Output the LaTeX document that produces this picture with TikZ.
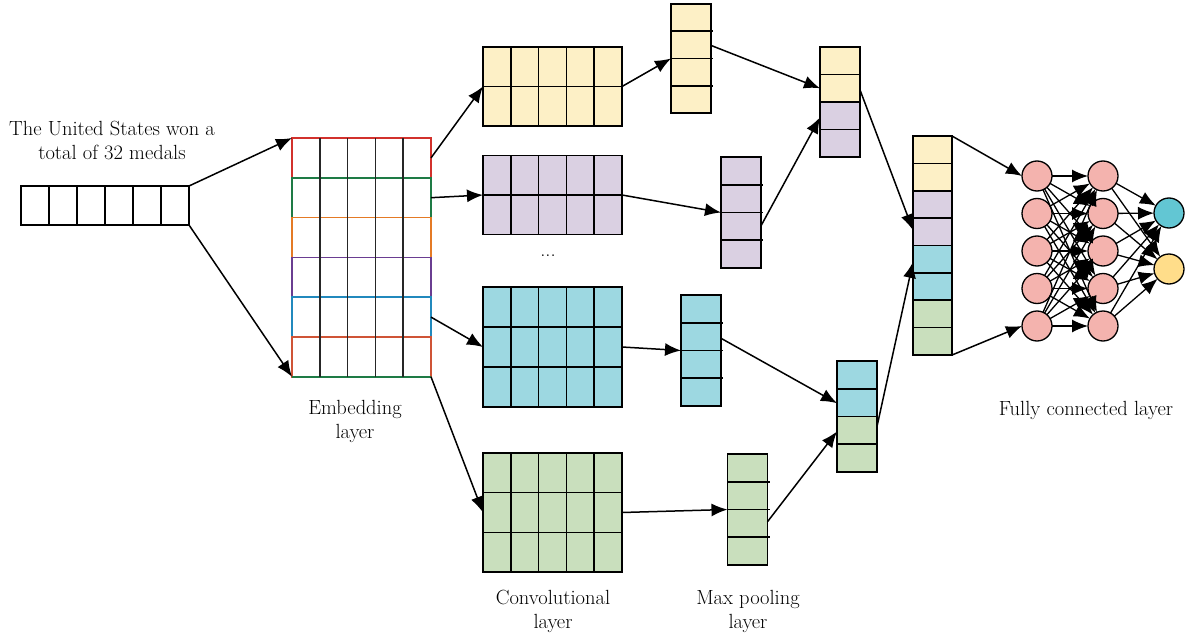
\documentclass[tikz,border=0pt]{standalone}
\usetikzlibrary{calc,arrows.meta}
\definecolor{cyel}{HTML}{FDF0C6}
\definecolor{cpur}{HTML}{DAD0E2}
\definecolor{ccya}{HTML}{9DD8E1}
\definecolor{cgre}{HTML}{C9DFBD}
\definecolor{cpink}{HTML}{F4B3AE}
\definecolor{cout1}{HTML}{62C6D3}
\definecolor{cout2}{HTML}{FFDD8A}
\definecolor{rowa}{HTML}{D2312C}
\definecolor{rowb}{HTML}{1E7B45}
\definecolor{rowc}{HTML}{E47A25}
\definecolor{rowd}{HTML}{6A3D91}
\definecolor{rowe}{HTML}{2189BD}
\definecolor{rowf}{HTML}{CF5436}

\begin{document}
\begin{tikzpicture}[x=1pt,y=-1pt,outer sep=0pt,font=\fontsize{20.5}{24}\selectfont]
\tikzstyle{box}=[draw, line width=1.6pt, inner sep=0pt, minimum width=40pt]
\tikzstyle{grid}=[line width=1.6pt]
\tikzstyle{arr}=[line width=1.5pt, -{Latex[length=16pt,width=13pt]}]
\tikzstyle{neuron}=[circle, draw, line width=1.3pt, fill=cpink, minimum size=30pt, inner sep=0pt]
\useasboundingbox (0,0) rectangle (1187,642);

% input sentence
\node (title) [align=center] at (112,140) {The United States won a\\total of 32 medals};
\node (in) [box, minimum width=168pt, minimum height=39pt] at (105,205.5) {};
\foreach \i in {1,...,5}
    \draw[grid] ($(in.north west)!\i/6!(in.north east)$) -- ($(in.south west)!\i/6!(in.south east)$);

% embedding rows
\foreach \r/\c in {1/rowa,2/rowb,3/rowc,4/rowd,5/rowe,6/rowf}
    \node (emb\r) [box, draw=\c, minimum width=139pt, minimum height=39.8pt] at (361.5,{118.1+39.8*\r}) {};
\draw[grid, rowb] (emb6.south west) -- (emb6.south east);
\foreach \i in {1,...,4}
    \draw[grid, black!85] ($(emb1.north west)!\i/5!(emb1.north east)$) -- ($(emb6.south west)!\i/5!(emb6.south east)$);
\node (emblabel) [align=center] at (355,421) {Embedding\\layer};

% convolution maps
\node (conv1) [box, fill=cyel, minimum width=139pt, minimum height=79pt] at (552.5,86.5) {};
\node (conv2) [box, fill=cpur, minimum width=139pt, minimum height=79pt] at (552.5,195) {};
\node (conv3) [box, fill=ccya, minimum width=139pt, minimum height=120pt] at (552.5,347) {};
\node (conv4) [box, fill=cgre, minimum width=139pt, minimum height=119pt] at (552.5,512.5) {};
\foreach \n/\r in {conv1/2,conv2/2,conv3/3,conv4/3} {
    \foreach \i in {1,...,4}
        \draw[grid] ($(\n.north west)!\i/5!(\n.north east)$) -- ($(\n.south west)!\i/5!(\n.south east)$);
    \foreach \j in {1,...,\r}
        \draw[grid] ($(\n.north west)!\j/\r!(\n.south west)$) -- ($(\n.north east)!\j/\r!(\n.south east)$);
}
\node (dots) at (548,256) {...};
\node (convlabel) [align=center] at (553,611) {Convolutional\\layer};

% max pooling
\node (pool1) [box, fill=cyel, minimum height=109pt] at (691,58.5) {};
\node (pool2) [box, fill=cpur, minimum height=111pt] at (741,212.5) {};
\node (pool3) [box, fill=ccya, minimum height=111pt] at (701,350.5) {};
\node (pool4) [box, fill=cgre, minimum height=111pt] at (747.5,509.5) {};
\foreach \n in {pool1,pool2,pool3,pool4}
    \foreach \j in {1,2,3}
        \draw[grid] ($(\n.north west)!\j/4!(\n.south west)$) -- ($(\n.north east)!\j/4!(\n.south east)+(2,0)$);
\node (poollabel) [align=center] at (748,611) {Max pooling\\layer};

% concatenation
\node (cat1a) [box, fill=cyel, minimum height=55pt] at (840,74.5) {};
\node (cat1b) [box, fill=cpur, minimum height=55pt, anchor=north] at (cat1a.south) {};
\node (cat2a) [box, fill=ccya, minimum height=55.5pt] at (857,388.75) {};
\node (cat2b) [box, fill=cgre, minimum height=55.5pt, anchor=north] at (cat2a.south) {};
\node (fin1) [box, fill=cyel, minimum width=39pt, minimum height=54.75pt] at (932.5,163.4) {};
\node (fin2) [box, fill=cpur, minimum width=39pt, minimum height=54.75pt, anchor=north] at (fin1.south) {};
\node (fin3) [box, fill=ccya, minimum width=39pt, minimum height=54.75pt, anchor=north] at (fin2.south) {};
\node (fin4) [box, fill=cgre, minimum width=39pt, minimum height=54.75pt, anchor=north] at (fin3.south) {};
\foreach \n in {cat1a,cat1b,cat2a,cat2b,fin1,fin2,fin3,fin4}
    \draw[grid] (\n.west) -- (\n.east);

% fully connected
\foreach \i/\y in {1/176,2/213.5,3/251,4/288.5,5/326} {
    \node (a\i) [neuron] at (1037,\y) {};
    \node (b\i) [neuron] at (1103,\y) {};
}
\node (o1) [neuron, fill=cout1] at (1169,213) {};
\node (o2) [neuron, fill=cout2] at (1169,269) {};
\node (fclabel) at (1086,410) {Fully connected layer};

% connectors
\draw[arr] (in.north east) -- (emb1.north west);
\draw[arr] (in.south east) -- (emb6.south west);
\draw[arr] (emb1.east) -- (conv1.west);
\draw[arr] (emb2.east) -- (conv2.west);
\draw[arr] (emb5.east) -- (conv3.west);
\draw[arr] (emb6.south east) -- (conv4.west);
\draw[arr] (conv1.east) -- (pool1.west);
\draw[arr] (conv2.east) -- (pool2.west);
\draw[arr] (conv3.east) -- (pool3.west);
\draw[arr] (conv4.east) -- (pool4.west);
\draw[arr] ($(pool1.north east)!0.38!(pool1.south east)$) -- ($(cat1a.north west)!0.75!(cat1a.south west)$);
\draw[arr] ($(pool2.north east)!0.62!(pool2.south east)$) -- ($(cat1b.north west)!0.28!(cat1b.south west)$);
\draw[arr] ($(pool3.north east)!0.39!(pool3.south east)$) -- ($(cat2a.north west)!0.76!(cat2a.south west)$);
\draw[arr] ($(pool4.north east)!0.61!(pool4.south east)$) -- ($(cat2b.north west)!0.27!(cat2b.south west)$);
\draw[arr] ($(cat1a.north east)!0.78!(cat1a.south east)$) -- ($(fin2.north west)!0.72!(fin2.south west)$);
\draw[arr] ($(cat2b.north east)!0.18!(cat2b.south east)$) -- ($(fin3.north west)!0.3!(fin3.south west)$);
\draw[arr] (fin1.north east) -- (a1.west);
\draw[arr] (fin4.south east) -- (a5.west);
\foreach \i in {1,...,5} {
    \foreach \j in {1,...,5}
        \draw[arr, line width=1.3pt] (a\i) -- (b\j);
    \draw[arr, line width=1.3pt] (b\i) -- (o1);
    \draw[arr, line width=1.3pt] (b\i) -- (o2);
}
\end{tikzpicture}
\end{document}
